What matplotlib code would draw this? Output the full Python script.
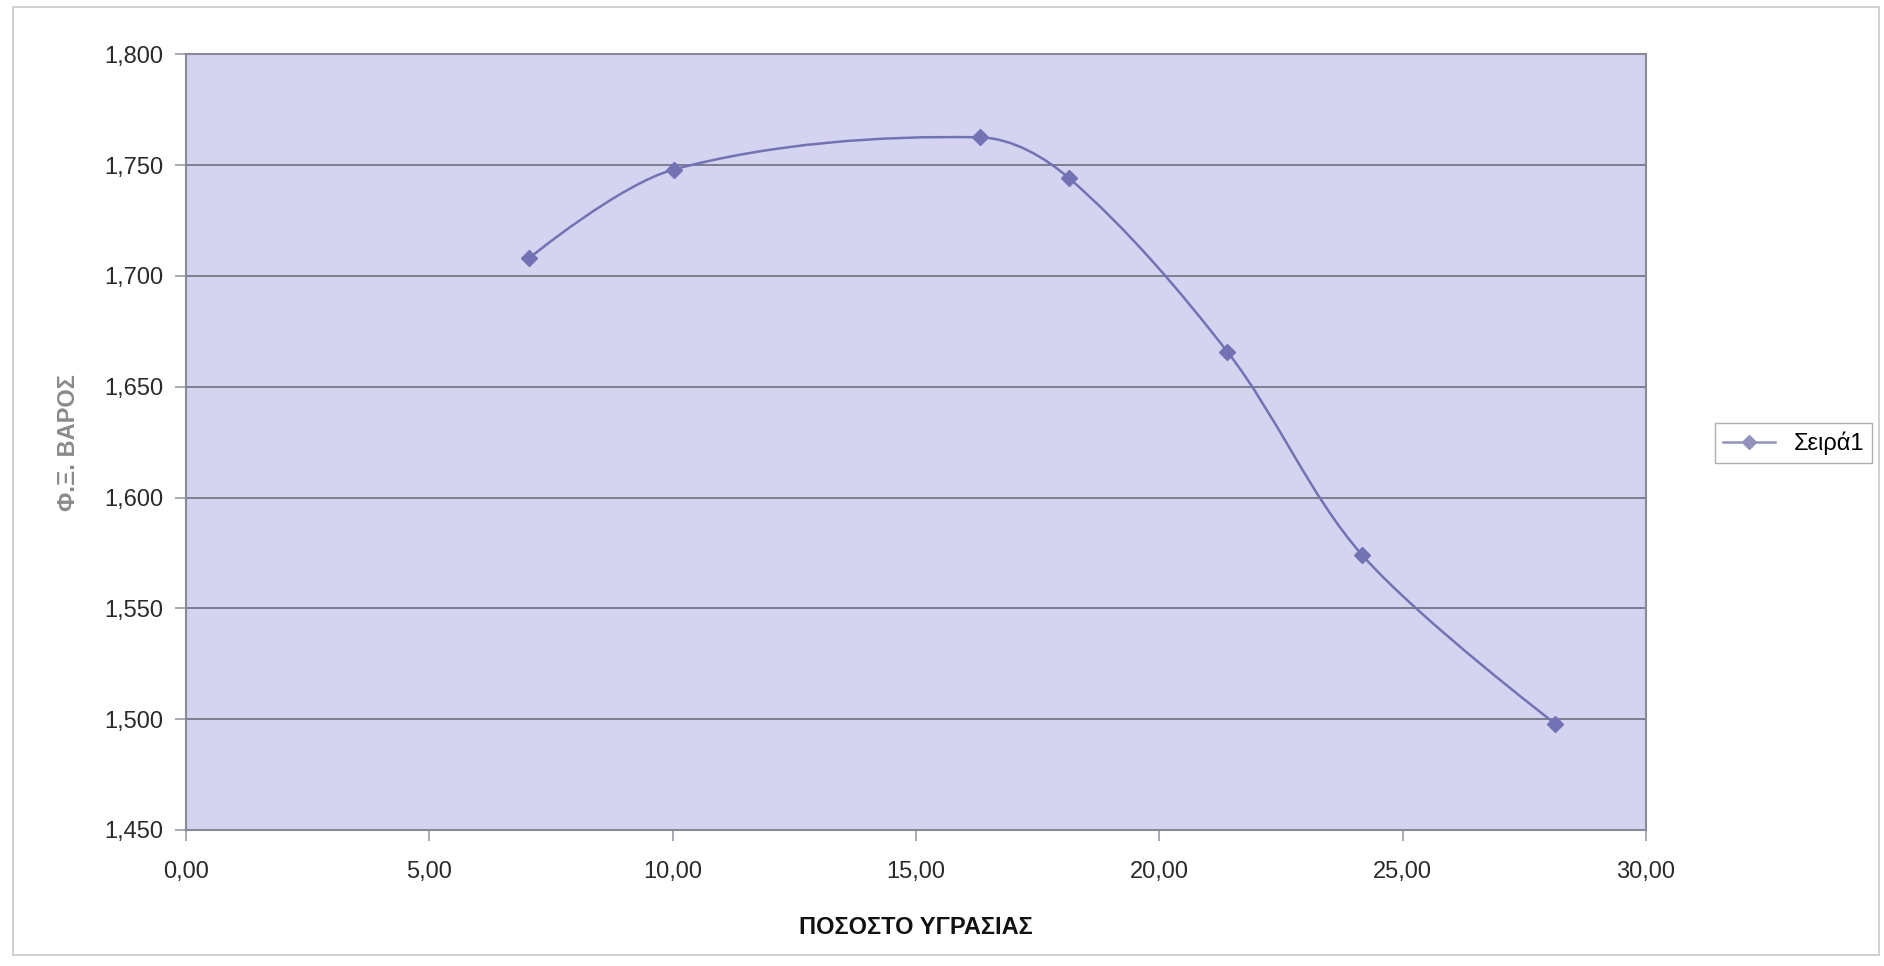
import numpy as np
import matplotlib
matplotlib.use('Agg')
import matplotlib.pyplot as plt
from matplotlib.path import Path
from matplotlib.patches import PathPatch, Rectangle
from matplotlib.ticker import FuncFormatter, MultipleLocator
from matplotlib.lines import Line2D

DPI = 100

# moisture % and specific weight
moisture = [7.05, 10.02, 16.32, 18.15, 21.40, 24.17, 28.13]
weight = [1.708, 1.748, 1.7625, 1.744, 1.6657, 1.5740, 1.4980]

series_name = 'Σειρά1'
x_label = 'ΠΟΣΟΣΤΟ ΥΓΡΑΣΙΑΣ'
y_label = 'Φ.Ξ. ΒΑΡΟΣ'

line_col = '#7272b4'
plot_bg = '#d4d4f0'
grid_col = '#6e6e80'

plt.rcParams['font.family'] = ['Liberation Sans', 'DejaVu Sans']


def smooth_path(ax, xs, ys):
    # smoothed line like a spreadsheet: cubic bezier whose control points
    # are weighted by segment length on screen, flat at both ends
    pts = np.column_stack([xs, ys])
    scr = ax.transData.transform(pts)
    n = len(pts)
    verts = [pts[0]]
    codes = [Path.MOVETO]
    for i in range(n - 1):
        p1, p2 = pts[i], pts[i + 1]
        d12 = np.hypot(*(scr[i + 1] - scr[i]))
        if i > 0:
            d01 = np.hypot(*(scr[i] - scr[i - 1]))
            c1 = p1 + (p2 - pts[i - 1]) * d12 / (d01 + d12) / 3.0
        else:
            c1 = p1
        if i + 2 < n:
            d23 = np.hypot(*(scr[i + 2] - scr[i + 1]))
            c2 = p2 - (pts[i + 2] - p1) * d12 / (d12 + d23) / 3.0
        else:
            c2 = p2
        verts += [c1, c2, p2]
        codes += [Path.CURVE4] * 3
    return Path(verts, codes)


fig = plt.figure(figsize=(18.84, 9.66), dpi=DPI)
fig.patch.set_facecolor('white')
fig.add_artist(Rectangle((13 / 1884, 1 - 955 / 966), 1866 / 1884, 948 / 966,
                         transform=fig.transFigure, fill=False,
                         edgecolor='#c8c8cc', linewidth=1.2))

ax = fig.add_axes([0.0987, 0.1408, 0.7750, 0.8030])
ax.set_facecolor(plot_bg)
ax.set_xlim(0, 30)
ax.set_ylim(1.450, 1.800)
ax.xaxis.set_major_locator(MultipleLocator(5))
ax.yaxis.set_major_locator(MultipleLocator(0.05))
ax.xaxis.set_major_formatter(FuncFormatter(lambda v, p: ('%.2f' % v).replace('.', ',')))
ax.yaxis.set_major_formatter(FuncFormatter(lambda v, p: ('%.3f' % v).replace('.', ',')))
ax.grid(axis='y', color=grid_col, linewidth=1.2)
ax.set_axisbelow(True)
for s in ax.spines.values():
    s.set_color('#8a8a96')
    s.set_linewidth(1.5)
ax.tick_params(direction='out', length=8, width=1.2, color='#9a9aa4',
               labelsize=17, labelcolor='#2a2a2a', pad=8)
ax.tick_params(axis='x', pad=14)

ax.add_patch(PathPatch(smooth_path(ax, moisture, weight), facecolor='none',
                       edgecolor=line_col, linewidth=1.8, zorder=3))
ax.plot(moisture, weight, linestyle='none', marker='D', markersize=8,
        color=line_col, zorder=4)

ax.set_xlabel(x_label, fontsize=17, fontweight='bold', color='#111111', labelpad=24)
ax.set_ylabel(y_label, fontsize=17, fontweight='bold', color='#8a8a8a', labelpad=18)

handle = Line2D([], [], color='#9292bc', linewidth=1.8, marker='D', markersize=7)
fig.legend([handle], [series_name], loc='center', bbox_to_anchor=(0.952, 0.541),
           fontsize=17, frameon=True, fancybox=False, edgecolor='#9a9aa0',
           handlelength=2.2, borderpad=0.35)

plt.savefig('out.png', dpi=DPI, facecolor='white')
